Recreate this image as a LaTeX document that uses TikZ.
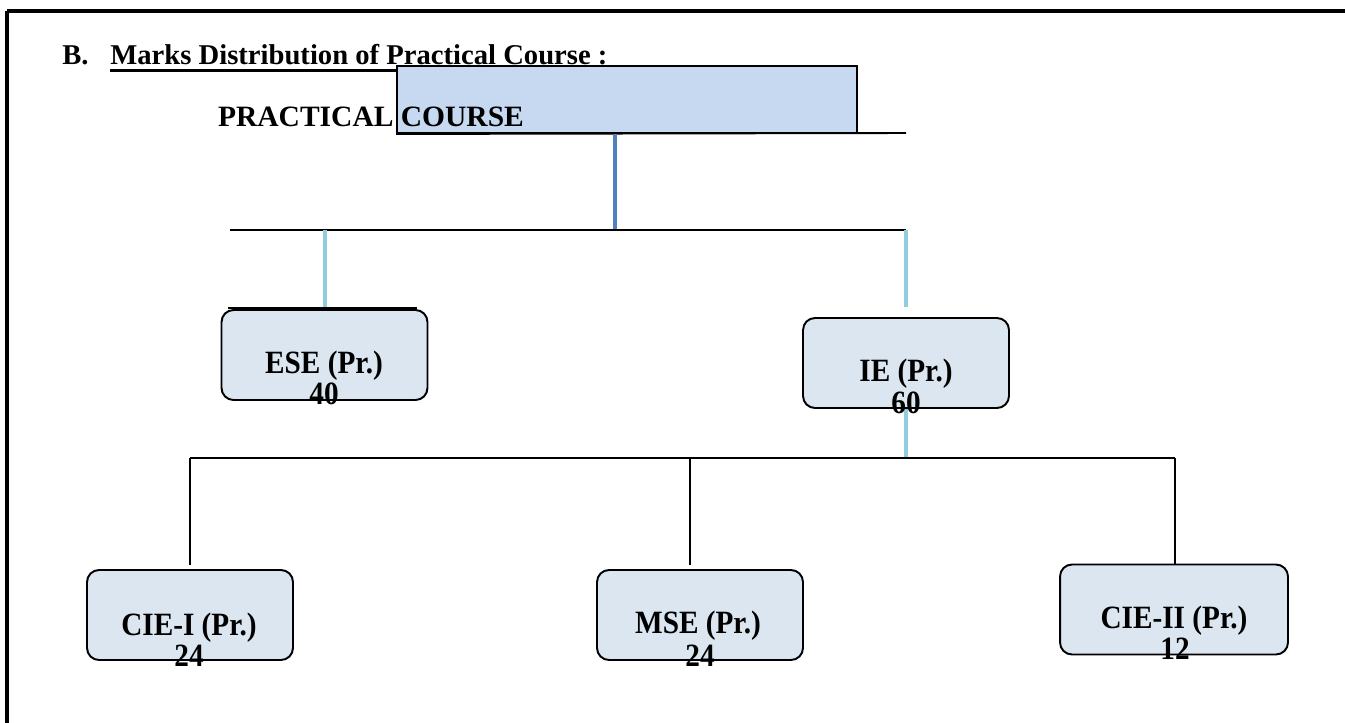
\documentclass[tikz,border=0pt]{standalone}
\usepackage{fontspec}
\setmainfont{Liberation Serif}
\newfontfamily\condfont[FakeStretch=0.9]{Liberation Serif}
\definecolor{topfill}{HTML}{C6D9F1}
\definecolor{boxfill}{HTML}{DCE6F1}
\definecolor{steel}{HTML}{4F81BD}
\definecolor{lightcyan}{HTML}{93CDDD}
\tikzset{
  rbox/.style={draw=black, line width=1.1pt, fill=boxfill, rounded corners=0.24cm,
    minimum width=4.12cm, minimum height=1.8cm, inner sep=0pt},
  lbl/.style={inner sep=0pt, anchor=base, font=\condfont\bfseries\fontsize{18.5}{21}\selectfont},
  blk/.style={draw=black, line width=1.1pt},
  cyanline/.style={draw=lightcyan, line width=1.9pt},
}
\begin{document}
\begin{tikzpicture}[x=0.02cm, y=-0.02cm]
\useasboundingbox (0,0) rectangle (1345,723);
% page frame
\coordinate (ftl) at (7,11);
\coordinate (ftr) at (1345,11);
\coordinate (fbl) at (7,723);
\draw[line width=2pt] (ftl) -- (ftr);
\draw[line width=1.8pt] (ftl) -- (fbl);
% heading
\node[inner sep=0pt, anchor=base west, font=\bfseries\fontsize{16.3}{19}\selectfont] (hb) at (62,65) {B.};
\node[inner sep=0pt, anchor=base west, font=\bfseries\fontsize{16.3}{19}\selectfont] (head) at (110,65) {Marks Distribution of Practical Course :};
\draw[line width=1.8pt] ([yshift=-3.2pt]head.base west) -- ([yshift=-3.2pt]head.base east);
% top box
\node[draw=black, line width=1.1pt, fill=topfill, minimum width=9.2cm, minimum height=1.34cm, inner sep=0pt] (pc) at (627,99.5) {};
\coordinate (pcr) at (906,133);
\draw[blk] (pc.south west) -- (pcr);
\node[inner sep=0pt, anchor=base, font=\bfseries\fontsize{16.8}{19}\selectfont] (pct) at (371,127) {PRACTICAL COURSE};
% level 1 connectors
\coordinate (j1) at (615,230);
\coordinate (b1l) at (230,230);
\coordinate (b1r) at (906,230);
\draw[draw=steel, line width=1.9pt] (pc.south -| j1) -- (j1);
\draw[blk] (b1l) -- (b1r);
\coordinate (eseup) at (325,230);
\coordinate (esedn) at (325,308);
\draw[cyanline] (eseup) -- (esedn);
\coordinate (ieup) at (906,230);
\coordinate (iedn) at (906,307);
\draw[cyanline] (ieup) -- (iedn);
\coordinate (el) at (228,308);
\coordinate (er) at (417,308);
\draw[line width=1.5pt] (el) -- (er);
% level 1 boxes
\node[rbox] (ese) at (324.5,355) {};
\node[lbl] (eset) at (324,373) {ESE (Pr.)};
\node[lbl] (esen) at (324,404) {40};
\node[rbox] (ie) at (906,363) {};
\node[lbl] (iet) at (906,381) {IE (Pr.)};
% level 2 connectors
\coordinate (b2m) at (906,458);
\coordinate (b2l) at (190,458);
\coordinate (b2r) at (1175,458);
\coordinate (b2c) at (690,458);
\draw[cyanline] (ie.south) -- (b2m);
\node[lbl] (ien) at (906,413) {60};
\draw[blk] (b2l) -- (b2r);
\coordinate (c1d) at (190,565);
\coordinate (c2d) at (690,565);
\coordinate (c3d) at (1175,564);
\draw[blk] (b2l) -- (c1d);
\draw[blk] (b2c) -- (c2d);
\draw[blk] (b2r) -- (c3d);
% level 2 boxes
\node[rbox] (cie1) at (190,615) {};
\node[lbl] (cie1t) at (189,635) {CIE-I (Pr.)};
\node[lbl] (cie1n) at (189,666) {24};
\node[rbox] (mse) at (700,615) {};
\node[lbl] (mset) at (698,633) {MSE (Pr.)};
\node[lbl] (msen) at (700,666) {24};
\node[rbox, minimum width=4.56cm] (cie2) at (1174,609.5) {};
\node[lbl] (cie2t) at (1174,628) {CIE-II (Pr.)};
\node[lbl] (cie2n) at (1175,659) {12};
\end{tikzpicture}
\end{document}
